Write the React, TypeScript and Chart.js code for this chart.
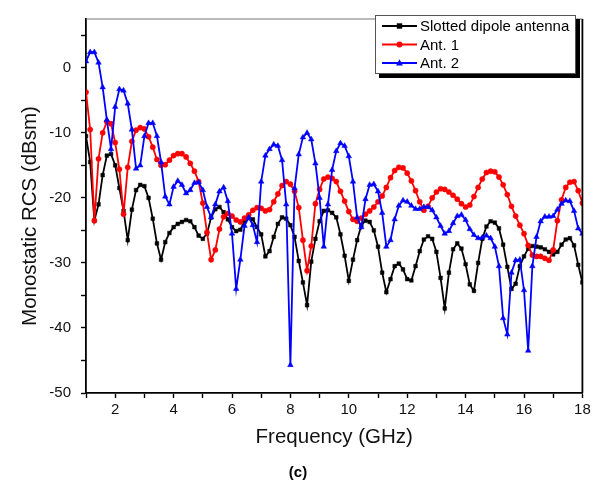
import React, { useEffect, useRef } from "react";
import { Chart, registerables } from "chart.js";

Chart.register(...registerables);

// Frequency grid (GHz)
const freq = [
  1, 1.143, 1.286, 1.429, 1.571, 1.714, 1.857,
  2, 2.143, 2.286, 2.429, 2.571, 2.714, 2.857,
  3, 3.143, 3.286, 3.429, 3.571, 3.714, 3.857,
  4, 4.143, 4.286, 4.429, 4.571, 4.714, 4.857,
  5, 5.143, 5.286, 5.429, 5.571, 5.714, 5.857,
  6, 6.143, 6.286, 6.429, 6.571, 6.714, 6.857,
  7, 7.143, 7.286, 7.429, 7.571, 7.714, 7.857,
  8, 8.143, 8.286, 8.429, 8.571, 8.714, 8.857,
  9, 9.143, 9.286, 9.429, 9.571, 9.714, 9.857,
  10, 10.143, 10.286, 10.429, 10.571, 10.714, 10.857,
  11, 11.143, 11.286, 11.429, 11.571, 11.714, 11.857,
  12, 12.143, 12.286, 12.429, 12.571, 12.714, 12.857,
  13, 13.143, 13.286, 13.429, 13.571, 13.714, 13.857,
  14, 14.143, 14.286, 14.429, 14.571, 14.714, 14.857,
  15, 15.143, 15.286, 15.429, 15.571, 15.714, 15.857,
  16, 16.143, 16.286, 16.429, 16.571, 16.714, 16.857,
  17, 17.143, 17.286, 17.429, 17.571, 17.714, 17.857,
  18,
];

const slottedDipole = [
  -10.5, -14.5, -23.5, -21, -16.5, -13.5, -13.25,
  -15, -18.5, -22, -26.5, -21.8, -18.8, -18,
  -18.2, -20, -23.2, -27, -29.5, -26.8, -25.4,
  -24.5, -24, -23.7, -23.4, -23.6, -24.5, -25.8,
  -26.3, -25.5, -23, -21.75, -21.4, -22.2, -23.3,
  -24.5, -25.1, -24.9, -23.6, -23.1, -23.3, -24.5,
  -25.6, -29, -28.2, -26, -24, -23, -23.2,
  -24.2, -26, -29.7, -33, -36.5, -29.8, -26.3,
  -23.6, -22, -21.9, -22.3, -23, -25.6, -28.9,
  -32.75, -29.5, -26.5, -24.2, -23.5, -23.7, -25,
  -27.5, -31.5, -34.5, -32.5, -30.5, -30.1, -31,
  -32.5, -32.7, -30.5, -28.2, -26.4, -25.9, -26.3,
  -28.3, -32.3, -37, -31.5, -27.9, -27, -27.8,
  -30.2, -33.3, -34.3, -30, -26.3, -24.4, -23.6,
  -23.8, -24.7, -27.2, -30.6, -34, -33.2, -30.5,
  -29, -27.8, -27.4, -27.5, -27.6, -27.9, -28.3,
  -28.7, -28.3, -27.2, -26.4, -26.2, -27.3, -30.3,
  -33,
];

const ant1 = [
  -3.75, -9.5, -23.5, -14, -10, -8.3, -8.6,
  -11.5, -15.6, -22.5, -15.3, -11.3, -9.6, -9.2,
  -9.4, -10.6, -12.2, -14.1, -15, -14.9, -14.2,
  -13.5, -13.2, -13.2, -13.7, -14.7, -15.9, -17.5,
  -20.8, -25.3, -29.5, -28, -24.8, -22.9, -22.4,
  -22.8, -23.4, -23.7, -23.1, -22.6, -21.9, -21.5,
  -21.6, -22, -21.8, -20.6, -19.4, -18.1, -17.5,
  -17.9, -19, -21.5, -26.5, -31.2, -27.4, -20.9,
  -18.7, -17.1, -16.8, -17, -17.5, -19, -20.5,
  -22.1, -23.3, -23.6, -23.1, -22.5, -22, -21.4,
  -20.6, -19.7, -18.4, -16.9, -15.8, -15.3, -15.4,
  -16.2, -17.4, -18.9, -20.6, -21.9, -21.3, -20,
  -19.1, -18.6, -18.7, -19.1, -19.6, -20.2, -20.9,
  -21.4, -21.1, -19.8, -18.4, -17.1, -16.1, -15.9,
  -16, -16.8, -18, -19.5, -21.3, -22.8, -24.2,
  -25.5, -27.3, -28.8, -29, -29, -29.3, -29.6,
  -28, -23.5, -20.3, -18.4, -17.6, -17.5, -18.9,
  -20.8,
];

const ant2 = [
  1.0, 2.4, 2.4, 0.8, -3, -8, -12.5,
  -6, -3.3, -3.5, -5.5, -9.5, -15.5, -15,
  -10.5, -8.5, -8.5, -10.5, -14.5, -19.8, -21,
  -18.3, -17.4, -18, -19.3, -18.8, -17.7, -17.6,
  -18.8, -21.4, -23, -21, -19, -18.4, -20.5,
  -25.5, -34, -29.5, -24.3, -23, -24.2, -26.8,
  -17.5, -13.5, -12.5, -11.8, -12, -14.2, -21,
  -45.7, -18.5, -13.3, -10.7, -10, -11, -14.7,
  -20, -27.5, -21, -15.7, -12.8, -11.6, -12,
  -13.6, -17.5, -23, -24.5, -20.2, -18, -17.9,
  -19, -22.3, -27.5, -26.5, -23.3, -21.2, -20.4,
  -20.6, -21.2, -21.7, -21.7, -21.4, -21.4, -21.9,
  -23, -24.3, -25.5, -25.1, -23.9, -22.8, -22.6,
  -23.4, -24.8, -25.7, -26.2, -26.1, -25.8, -26.2,
  -27.5, -30.5, -38.5, -41, -31.5, -29.6, -29.5,
  -34.2, -43.5, -30.5, -26, -23.6, -22.9, -22.9,
  -22.8, -21.8, -20.9, -20.4, -20.5, -22, -24.7,
  -25.5,
];

const seriesNames = ["Slotted dipole antenna", "Ant. 1", "Ant. 2"];
const seriesColors = ["#000000", "#ff0000", "#0000ff"];
const seriesMarkers = ["rect", "circle", "triangle"];

const xTicks = [1, 2, 3, 4, 5, 6, 7, 8, 9, 10, 11, 12, 13, 14, 15, 16, 17, 18];
const yTicks = [-50, -45, -40, -35, -30, -25, -20, -15, -10, -5, 0, 5];

const xTitle = "Frequency (GHz)";
const yTitle = "Monostatic RCS (dBsm)";
const caption = "(c)";

const FONT = "'Liberation Sans', Arial, sans-serif";

function drawMarker(ctx: CanvasRenderingContext2D, style: string, x: number, y: number, color: string) {
  ctx.fillStyle = color;
  ctx.beginPath();
  if (style === "rect") {
    ctx.rect(x - 2.7, y - 2.7, 5.4, 5.4);
  } else if (style === "circle") {
    ctx.arc(x, y, 3, 0, Math.PI * 2);
  } else {
    ctx.moveTo(x, y - 3.7);
    ctx.lineTo(x + 3.4, y + 2.4);
    ctx.lineTo(x - 3.4, y + 2.4);
    ctx.closePath();
  }
  ctx.fill();
}

const decorPlugin = {
  id: "decor",
  afterDraw(chart: any) {
    const ctx = chart.ctx as CanvasRenderingContext2D;
    const a = chart.chartArea;
    ctx.save();
    // top and right frame
    ctx.strokeStyle = "#777";
    ctx.lineWidth = 1.2;
    ctx.beginPath();
    ctx.moveTo(a.left, a.top);
    ctx.lineTo(a.right, a.top);
    ctx.stroke();
    ctx.strokeStyle = "#000";
    ctx.lineWidth = 1.8;
    ctx.beginPath();
    ctx.moveTo(a.right, a.top);
    ctx.lineTo(a.right, a.bottom);
    ctx.stroke();

    // legend
    const bx = 375, by = 15, bw = 201, bh = 59;
    ctx.fillStyle = "#000";
    ctx.fillRect(bx + 4, by + 4, bw, bh);
    ctx.fillStyle = "#fff";
    ctx.fillRect(bx, by, bw, bh);
    ctx.strokeStyle = "#555";
    ctx.lineWidth = 1;
    ctx.strokeRect(bx + 0.5, by + 0.5, bw - 1, bh - 1);
    const rows = [26, 44.5, 63];
    ctx.font = `15px ${FONT}`;
    ctx.textBaseline = "middle";
    ctx.textAlign = "left";
    for (let i = 0; i < seriesNames.length; i++) {
      const y = rows[i];
      ctx.strokeStyle = seriesColors[i];
      ctx.lineWidth = 1.8;
      ctx.beginPath();
      ctx.moveTo(382, y);
      ctx.lineTo(417, y);
      ctx.stroke();
      drawMarker(ctx, seriesMarkers[i], 399.5, y, seriesColors[i]);
      ctx.fillStyle = "#000";
      ctx.fillText(seriesNames[i], 420, y + 1);
    }

    // axis titles
    ctx.fillStyle = "#111";
    ctx.font = `20.5px ${FONT}`;
    ctx.textAlign = "center";
    ctx.textBaseline = "middle";
    ctx.fillText(xTitle, (a.left + a.right) / 2, 437);
    ctx.save();
    ctx.translate(30, 216);
    ctx.rotate(-Math.PI / 2);
    ctx.fillText(yTitle, 0, 0);
    ctx.restore();

    // caption
    ctx.font = `bold 15px ${FONT}`;
    ctx.fillStyle = "#000";
    ctx.fillText(caption, 298, 473);
    ctx.restore();
  },
};

export default function App() {
  const ref = useRef<HTMLCanvasElement | null>(null);
  useEffect(() => {
    document.body.style.margin = "0";
    const canvas = ref.current!;
    const series = [slottedDipole, ant1, ant2];
    const chart = new Chart(canvas, {
      type: "line",
      data: {
        datasets: series.map((s, i) => ({
          label: seriesNames[i],
          data: freq.map((f, j) => ({ x: f, y: s[j] })),
          borderColor: seriesColors[i],
          backgroundColor: seriesColors[i],
          pointBackgroundColor: seriesColors[i],
          pointBorderColor: seriesColors[i],
          pointStyle: seriesMarkers[i] as any,
          pointRadius: i === 2 ? 3.2 : 2.6,
          pointBorderWidth: 0.5,
          borderWidth: 1.8,
          tension: 0,
          fill: false,
          order: 2 - i,
        })),
      },
      options: {
        animation: false,
        responsive: false,
        maintainAspectRatio: false,
        events: [],
        layout: { padding: { left: 0, top: 10, right: 18.6, bottom: 0 } },
        plugins: {
          legend: { display: false },
          tooltip: { enabled: false },
          title: { display: false },
        },
        scales: {
          x: {
            type: "linear",
            min: 1,
            max: 18,
            afterBuildTicks: (s: any) => {
              s.ticks = xTicks.map((v) => ({ value: v }));
            },
            afterFit: (s: any) => {
              s.height = 105;
            },
            grid: {
              display: true,
              drawOnChartArea: false,
              drawTicks: true,
              tickLength: 5,
              tickColor: "#000",
              tickWidth: 1.4,
            },
            border: { display: true, color: "#000", width: 1.8 },
            ticks: {
              callback: (v: any) => (Number(v) % 2 === 0 ? String(v) : ""),
              autoSkip: false,
              maxRotation: 0,
              padding: 3,
              color: "#111",
              font: { family: FONT, size: 15 },
            },
          },
          y: {
            type: "linear",
            min: -50,
            max: 7.5,
            afterBuildTicks: (s: any) => {
              s.ticks = yTicks.map((v) => ({ value: v }));
            },
            afterFit: (s: any) => {
              s.width = 86;
            },
            grid: {
              display: true,
              drawOnChartArea: false,
              drawTicks: true,
              tickLength: 5,
              tickColor: "#000",
              tickWidth: 1.4,
            },
            border: { display: true, color: "#000", width: 1.8 },
            ticks: {
              callback: (v: any) => (Number(v) % 10 === 0 ? String(v) : ""),
              autoSkip: false,
              padding: 10,
              color: "#111",
              font: { family: FONT, size: 15 },
            },
          },
        },
      },
      plugins: [decorPlugin],
    });
    return () => chart.destroy();
  }, []);
  return (
    <div style={{ width: 601, height: 498, background: "#fff" }}>
      <canvas ref={ref} width={601} height={498} style={{ width: 601, height: 498, display: "block" }} />
    </div>
  );
}
